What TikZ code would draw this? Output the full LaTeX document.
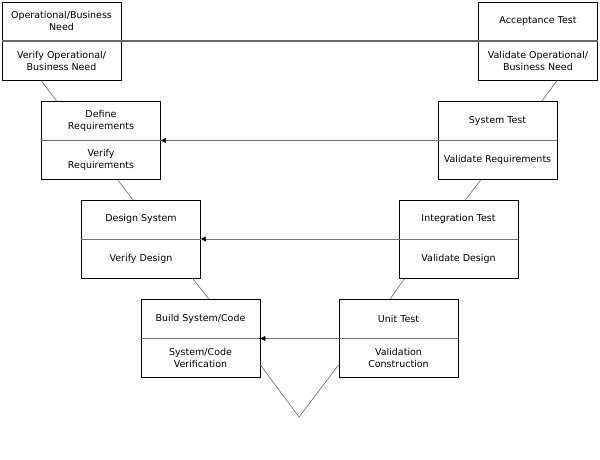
\documentclass[tikz,border=0pt]{standalone}
\usepackage{fontspec}
\setmainfont{DejaVu Sans}
\usetikzlibrary{positioning,calc,arrows.meta}

\begin{document}
\begin{tikzpicture}[x=1pt,y=-1pt,
    stage/.style={draw,line width=0.9pt,minimum width=119pt,minimum height=78pt,inner sep=0pt},
    lbl/.style={align=center,font=\fontsize{9.5}{12}\selectfont,inner sep=0pt},
    split/.style={draw=black!55,line width=0.8pt},
    topline/.style={draw=black!60,line width=1.3pt},
    vline/.style={draw=black!60,line width=0.6pt},
    back/.style={draw=black!55,line width=0.7pt,-{Triangle[length=5pt,width=5pt,black]}}]
    \useasboundingbox (0,0) rectangle (600,459);
    % left arm of the V
    \node[stage] (need) at (61.5,41) {};
    \node[stage] (req) at (101,140.5) {};
    \node[stage] (design) at (141,239) {};
    \node[stage] (build) at (200.5,338.5) {};
    % right arm of the V
    \node[stage] (accept) at (538,41) {};
    \node[stage] (systest) at (497.5,140.5) {};
    \node[stage] (integ) at (458.5,239) {};
    \node[stage] (unit) at (398.5,338.5) {};
    % texts
    \node[lbl] (needtop) at ($(need.north)!.5!(need.center)$) {Operational/Business\\Need};
    \node[lbl] (needbot) at ($(need.south)!.5!(need.center)$) {Verify Operational/\\Business Need};
    \node[lbl] (reqtop) at ($(req.north)!.5!(req.center)$) {Define\\Requirements};
    \node[lbl] (reqbot) at ($(req.south)!.5!(req.center)$) {Verify\\Requirements};
    \node[lbl] (designtop) at ($(design.north)!.5!(design.center)$) {Design System};
    \node[lbl] (designbot) at ($(design.south)!.5!(design.center)$) {Verify Design};
    \node[lbl] (buildtop) at ($(build.north)!.5!(build.center)$) {Build System/Code};
    \node[lbl] (buildbot) at ($(build.south)!.5!(build.center)$) {System/Code\\Verification};
    \node[lbl] (accepttop) at ($(accept.north)!.5!(accept.center)$) {Acceptance Test};
    \node[lbl] (acceptbot) at ($(accept.south)!.5!(accept.center)$) {Validate Operational/\\Business Need};
    \node[lbl] (systesttop) at ($(systest.north)!.5!(systest.center)$) {System Test};
    \node[lbl] (systestbot) at ($(systest.south)!.5!(systest.center)$) {Validate Requirements};
    \node[lbl] (integtop) at ($(integ.north)!.5!(integ.center)$) {Integration Test};
    \node[lbl] (integbot) at ($(integ.south)!.5!(integ.center)$) {Validate Design};
    \node[lbl] (unittop) at ($(unit.north)!.5!(unit.center)$) {Unit Test};
    \node[lbl] (unitbot) at ($(unit.south)!.5!(unit.center)$) {Validation\\Construction};
    % dividers and links back
    \draw[topline] (need.west) -- (accept.east);
    \draw[split] (req.west) -- (req.east);
    \draw[split] (design.west) -- (design.east);
    \draw[split] (build.west) -- (build.east);
    \draw[back] (systest.east) -- (req.east);
    \draw[back] (integ.east) -- (design.east);
    \draw[back] (unit.east) -- (build.east);
    % the V
    \coordinate (vtip) at (299,417);
    \draw[vline] ($(need.south west)!.33!(need.south east)$) -- ($(req.north west)!.13!(req.north east)$);
    \draw[vline] ($(req.south west)!.64!(req.south east)$) -- ($(design.north west)!.43!(design.north east)$);
    \draw[vline] ($(design.south west)!.93!(design.south east)$) -- ($(build.north west)!.57!(build.north east)$);
    \draw[vline] ($(accept.south west)!.66!(accept.south east)$) -- ($(systest.north west)!.87!(systest.north east)$);
    \draw[vline] ($(systest.south west)!.36!(systest.south east)$) -- ($(integ.north west)!.56!(integ.north east)$);
    \draw[vline] ($(integ.south west)!.05!(integ.south east)$) -- ($(unit.north west)!.43!(unit.north east)$);
    \draw[vline] ($(build.south east)!.33!(build.east)$) -- (vtip) -- ($(unit.south west)!.33!(unit.west)$);
\end{tikzpicture}
\end{document}
